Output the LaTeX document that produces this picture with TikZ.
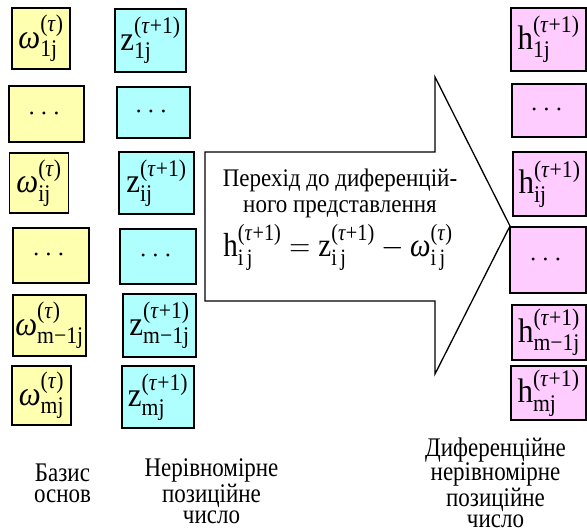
\documentclass[tikz,border=0pt]{standalone}
\usepackage{fix-cm}
\usepackage{amsmath}
\usepackage{graphicx}
\usepackage{fontspec}
\setmainfont{Liberation Serif}
\definecolor{yfill}{RGB}{255,255,176}
\definecolor{cfill}{RGB}{176,255,255}
\definecolor{pfill}{RGB}{255,204,255}
\newcommand\cellfont{\fontsize{31}{36}\selectfont}
\newcommand\formfont{\fontsize{29}{34}\selectfont}
\newcommand\dotsfont{\fontsize{28}{32}\selectfont}
\newcommand\lblfont{\fontsize{23}{17.8}\selectfont}
\newcommand\arrfont{\fontsize{23}{24.5}\selectfont}
\newcommand\vst[1]{\scalebox{1}[1.1]{#1}}
\newcommand\wcell[1]{\vst{$\text{\textit{ω}}^{\text{(\textit{τ})}}_{\text{#1}}$}}
\newcommand\zcell[1]{\vst{$\text{z}^{\text{(\textit{τ}+1)}}_{\text{#1}}$}}
\newcommand\hcell[1]{\vst{$\text{h}^{\text{(\textit{τ}+1)}}_{\text{#1}}$}}
\newcommand\dcell{{\dotsfont$\cdots$}}
\tikzset{
  cell/.style={draw=black, line width=1.6pt, inner sep=0pt, font=\cellfont},
  ycell/.style={cell, fill=yfill},
  ccell/.style={cell, fill=cfill},
  pcell/.style={cell, fill=pfill},
  arrowline/.style={draw=black, line width=1.3pt, fill=white, line join=miter},
  lbl/.style={align=center, inner sep=0pt, font=\lblfont, yscale=1.17, transform shape, anchor=base},
}
\begin{document}
\begin{tikzpicture}[x=1pt,y=-1pt]
\useasboundingbox (0,0) rectangle (587,532);
% yellow column
\node[ycell, minimum width=58pt, minimum height=61pt] (y1) at (41,38.5) {\wcell{1j}};
\node[ycell, minimum width=75pt, minimum height=56pt] (y2) at (46.5,114) {\dcell};
\node[ycell, minimum width=59pt, minimum height=60pt] (y3) at (39,183) {\wcell{ij}};
\node[ycell, minimum width=76pt, minimum height=55pt] (y4) at (51,255.5) {\dcell};
\node[ycell, minimum width=73pt, minimum height=61pt] (y5) at (49.5,325.5) {\wcell{m−1j}};
\node[ycell, minimum width=59pt, minimum height=59pt] (y6) at (41.5,395.5) {\wcell{mj}};
% cyan column
\node[ccell, minimum width=71pt, minimum height=63pt] (c1) at (150.5,40.5) {\zcell{1j}};
\node[ccell, minimum width=73pt, minimum height=51pt] (c2) at (153.5,112.5) {\dcell};
\node[ccell, minimum width=75pt, minimum height=62pt] (c3) at (156.5,183) {\zcell{ij}};
\node[ccell, minimum width=76pt, minimum height=55pt] (c4) at (158,256.5) {\dcell};
\node[ccell, minimum width=73pt, minimum height=63pt] (c5) at (159.5,325.5) {\zcell{m−1j}};
\node[ccell, minimum width=72pt, minimum height=62pt] (c6) at (158,397) {\zcell{mj}};
% big arrow
\draw[arrowline] (205,152) -- (435,152) -- (435,77) -- (510,226) -- (435,374) -- (435,301) -- (205,301) -- cycle;
\node[align=center, inner sep=0pt, font=\arrfont, anchor=base, yscale=1.1, transform shape] (atext) at (340,213) {Перехід до диференцій-\\ного представлення};
\node[inner sep=0pt, font=\formfont, anchor=base, yscale=1.15, transform shape] (formula) at (338,257)
  {$\text{h}^{\text{(\textit{τ}+1)}}_{\text{i\,j}} = \text{z}^{\text{(\textit{τ}+1)}}_{\text{i\,j}} - \text{\textit{ω}}^{\text{(\textit{τ})}}_{\text{i\,j}}$};
% pink column
\node[pcell, minimum width=75pt, minimum height=63pt] (p1) at (548.5,39.5) {\hcell{1j}};
\node[pcell, minimum width=74pt, minimum height=53pt] (p2) at (549,110.5) {\dcell};
\node[pcell, minimum width=73pt, minimum height=64pt] (p3) at (549.5,184) {\hcell{ij}};
\node[pcell, minimum width=76pt, minimum height=66pt] (p4) at (548,260) {\dcell};
\node[pcell, minimum width=74pt, minimum height=55pt] (p5) at (549,332.5) {\hcell{m−1j}};
\node[pcell, minimum width=75pt, minimum height=54pt] (p6) at (548.5,393) {\hcell{mj}};
% labels (base = baseline of last line)
\node[lbl] (l1) at (62.5,502) {Базис\\основ};
\node[lbl] (l2) at (211.5,523) {Нерівномірне\\позиційне\\число};
\node[lbl] (l3) at (495.5,527) {Диференційне\\нерівномірне\\позиційне\\число};
\end{tikzpicture}
\end{document}
